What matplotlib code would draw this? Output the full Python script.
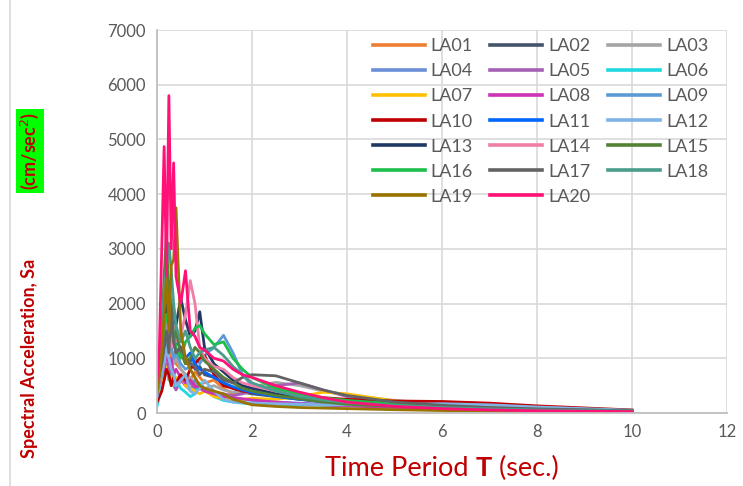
import matplotlib
matplotlib.use("Agg")
import matplotlib.pyplot as plt
from matplotlib.lines import Line2D

plt.rcParams['font.family'] = ['Lato', 'DejaVu Sans']

# periods (sec.)
period = [0.0, 0.05, 0.1, 0.15, 0.2, 0.25, 0.3, 0.35, 0.4, 0.5, 0.6, 0.7, 0.8,
          0.9, 1.0, 1.2, 1.4, 1.6, 1.8, 2.0, 2.5, 3.0, 3.5, 4.0, 5.0, 6.0,
          7.0, 8.0, 10.0]

# spectral acceleration (cm/sec^2)
LA01 = [350, 600, 900, 1300, 1500, 1200, 1000, 1100, 900, 800, 700, 600, 750,
        650, 550, 600, 450, 350, 400, 500, 420, 300, 250, 200, 150, 110, 80, 60, 40]
LA02 = [320, 550, 1000, 1400, 1800, 1500, 1700, 1300, 1100, 1200, 900, 1000, 800,
        850, 700, 650, 550, 450, 380, 350, 300, 250, 200, 160, 120, 90, 70, 55, 35]
LA03 = [300, 500, 800, 1000, 1300, 1100, 1200, 900, 1000, 800, 700, 650, 550,
        500, 450, 500, 420, 380, 400, 480, 560, 500, 400, 330, 230, 160, 120, 90, 50]
LA04 = [330, 520, 700, 900, 1100, 900, 800, 750, 600, 700, 500, 420, 600,
        500, 450, 380, 300, 280, 250, 230, 200, 180, 160, 140, 120, 100, 80, 65, 45]
LA05 = [300, 480, 700, 600, 900, 800, 700, 500, 420, 600, 500, 550, 450,
        500, 420, 380, 350, 320, 350, 400, 500, 550, 420, 300, 200, 150, 110, 80, 45]
LA06 = [120, 300, 500, 700, 800, 600, 700, 500, 600, 450, 380, 300, 350,
        550, 450, 300, 230, 200, 180, 170, 160, 150, 140, 130, 110, 90, 70, 55, 35]
LA07 = [300, 450, 600, 900, 800, 700, 500, 750, 600, 700, 500, 450, 400,
        350, 400, 300, 260, 230, 250, 270, 250, 300, 380, 350, 220, 140, 100, 70, 40]
LA08 = [300, 500, 700, 800, 1100, 900, 1000, 700, 800, 650, 550, 600, 500,
        450, 400, 350, 300, 280, 260, 240, 200, 170, 150, 130, 100, 80, 65, 50, 30]
LA09 = [350, 600, 800, 1000, 1400, 1300, 1200, 1000, 1100, 900, 800, 850, 1000,
        900, 1050, 1200, 1420, 1100, 700, 500, 350, 280, 230, 200, 190, 200, 170, 110, 50]
LA10 = [200, 300, 400, 600, 800, 700, 500, 650, 550, 700, 600, 800, 900,
        1000, 1050, 700, 500, 450, 400, 380, 330, 300, 280, 250, 220, 210, 180, 130, 55]
LA11 = [300, 500, 800, 1200, 2200, 1600, 1400, 1700, 1300, 1200, 1000, 1100, 900,
        800, 750, 650, 550, 480, 420, 380, 300, 250, 210, 180, 140, 110, 85, 65, 40]
LA12 = [300, 450, 700, 900, 1200, 1000, 800, 700, 500, 600, 700, 400, 350,
        450, 600, 400, 250, 200, 190, 180, 170, 160, 150, 150, 150, 170, 150, 110, 50]
LA13 = [350, 600, 1000, 1500, 2000, 2400, 1800, 1900, 1600, 2100, 1700, 1400, 1500,
        1850, 1200, 900, 750, 600, 500, 450, 350, 280, 220, 180, 130, 95, 75, 55, 35]
LA14 = [350, 600, 900, 1400, 1800, 1500, 1200, 1600, 1300, 1400, 1800, 2420, 2000,
        1200, 1000, 850, 800, 650, 550, 500, 400, 320, 260, 210, 150, 110, 80, 60, 35]
LA15 = [400, 700, 1500, 2500, 3300, 2000, 1600, 1300, 1500, 1100, 900, 1000, 1200,
        1100, 950, 800, 650, 550, 450, 400, 320, 260, 200, 160, 120, 90, 70, 55, 35]
LA16 = [400, 700, 1100, 1500, 1800, 1600, 2000, 1400, 1200, 1000, 1300, 1400, 1550,
        1600, 1450, 1250, 1300, 1000, 800, 650, 450, 350, 280, 230, 170, 120, 90, 65, 40]
LA17 = [500, 700, 900, 1200, 1500, 1100, 2000, 1300, 1100, 1200, 1000, 900, 850,
        700, 800, 750, 600, 550, 650, 700, 680, 550, 420, 320, 200, 140, 100, 75, 40]
LA18 = [450, 800, 1300, 2200, 2700, 3100, 2600, 2000, 1600, 1300, 1500, 1200, 1000,
        1100, 1150, 1200, 1050, 850, 700, 550, 400, 300, 240, 190, 140, 100, 75, 55, 35]
LA19 = [400, 700, 1100, 1800, 2500, 1500, 2700, 2800, 3750, 1500, 1000, 800, 650,
        500, 450, 400, 350, 250, 200, 150, 120, 100, 90, 80, 60, 45, 35, 25, 15]
LA20 = [600, 1200, 3000, 4870, 2500, 5800, 3000, 4570, 2500, 2000, 2600, 1500, 1400,
        1200, 1150, 1000, 950, 800, 700, 650, 500, 380, 280, 200, 120, 80, 55, 40, 25]

names = ['LA01', 'LA02', 'LA03', 'LA04', 'LA05', 'LA06', 'LA07', 'LA08', 'LA09',
         'LA10', 'LA11', 'LA12', 'LA13', 'LA14', 'LA15', 'LA16', 'LA17', 'LA18',
         'LA19', 'LA20']
series = [LA01, LA02, LA03, LA04, LA05, LA06, LA07, LA08, LA09, LA10, LA11,
          LA12, LA13, LA14, LA15, LA16, LA17, LA18, LA19, LA20]
colors = ['#ED7D31', '#44546A', '#A5A5A5', '#6A8FD8', '#A55FB5', '#1FD8E0',
          '#FFC000', '#CC33B5', '#5B9BD5', '#C00000', '#0066FF', '#7FB2E5',
          '#1F3864', '#F07FA8', '#548235', '#1CBF4A', '#636363', '#4A9C8C',
          '#997300', '#FF1177']

red = '#C00000'
fig = plt.figure(figsize=(7.43, 4.86), dpi=100)
ax = fig.add_axes([157 / 743, 1 - 413 / 486, 570 / 743, 383 / 486])

lines = []
for name, vals, c in zip(names, series, colors):
    ln, = ax.plot(period, vals, color=c, lw=2.0, label=name)
    lines.append(ln)

ax.set_xlim(0, 12)
ax.set_ylim(0, 7000)
ax.set_xticks(range(0, 13, 2))
ax.set_yticks(range(0, 7001, 1000))
ax.grid(color='#D9D9D9', lw=1.2)
ax.set_axisbelow(True)
for s in ['top', 'right']:
    ax.spines[s].set_visible(False)
for s in ['left', 'bottom']:
    ax.spines[s].set_color('#BFBFBF')
    ax.spines[s].set_linewidth(1.3)
ax.tick_params(length=0, labelsize=12, colors='#595959', pad=8)

# legend filled row by row like the original (3 columns)
order = [i for c in range(3) for i in range(c, len(lines), 3)]
leg = ax.legend([lines[i] for i in order], [names[i] for i in order],
                ncol=3, loc='upper right', bbox_to_anchor=(0.967, 0.978),
                frameon=False, fontsize=13, handlelength=2.9,
                columnspacing=0.94, labelspacing=0.5, handletextpad=0.33,
                borderaxespad=0, borderpad=0)
for t in leg.get_texts():
    t.set_color('#595959')
for h in leg.legend_handles:
    h.set_linewidth(2.6)

# y label with highlighted units
fig.text(30 / 743, 1 - 458 / 486, 'Spectral Acceleration, Sa', rotation=90,
         ha='center', va='bottom', color=red, fontsize=13, fontweight='bold')
fig.text(30 / 743, 1 - 190 / 486, '(cm/sec$^{2}$)', rotation=90,
         ha='center', va='bottom', color=red, fontsize=13, fontweight='bold',
         bbox=dict(boxstyle='square,pad=0.15', fc='#00FF00', ec='none'))

# x label with bold T
parts = [('Time Period ', 'normal'), ('T', 'bold'), (' (sec.)', 'normal')]
fig.canvas.draw()
r = fig.canvas.get_renderer()
texts = [fig.text(0, 1 - 468 / 486, p, fontsize=19.5, fontweight=w, color=red,
                  va='center') for p, w in parts]
widths = [t.get_window_extent(r).width for t in texts]
x0 = 442 - sum(widths) / 2
for t, w in zip(texts, widths):
    t.set_x(x0 / 743)
    x0 += w

fig.add_artist(Line2D([10 / 743, 10 / 743], [0, 1], color='#D9D9D9', lw=1.2))

fig.savefig('out.png', dpi=100)
